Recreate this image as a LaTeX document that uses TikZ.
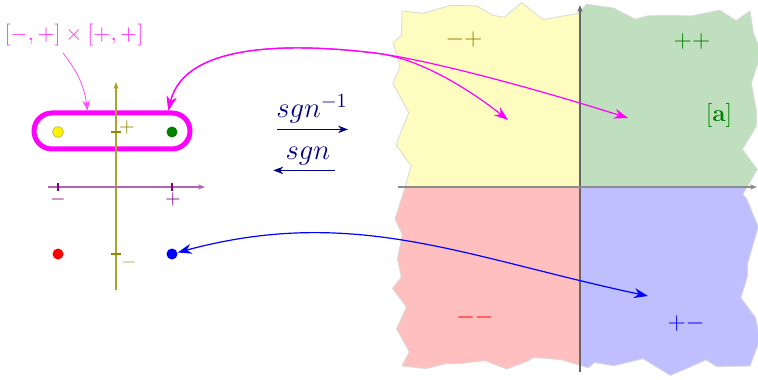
\documentclass[tikz,border=0pt]{standalone}
\usetikzlibrary{arrows.meta,decorations.pathmorphing}
\definecolor{signmag}{rgb}{1,0,1}
\tikzset{
  ball/.style={circle, inner sep=0pt, minimum size=5.5pt},
  axis/.style={semithick, -{Stealth[length=3.5pt]}},
  tickmark/.style={thick},
  link/.style={semithick, {Stealth[length=7pt,width=5pt]}-{Stealth[length=7pt,width=5pt]}},
  torn/.style={decorate, decoration={random steps, segment length=10pt, amplitude=5pt}},
  quadname/.style={font=\fontsize{11.5}{14}\selectfont},
  mapname/.style={blue!50!black, font=\Large, inner sep=0pt, anchor=base},
}
\begin{document}
\begin{tikzpicture}[x=0.5pt, y=-0.5pt]
  \useasboundingbox (0,0) rectangle (758,379);

  % the four quadrants, torn off at the outside
  \begin{scope}
    \pgfmathsetseed{5}
    \clip[torn] (402,11) rectangle (750,366);
    \fill[yellow!25] (380,0) rectangle (580,187);
    \fill[green!50!black!25] (580,0) rectangle (758,187);
    \fill[red!25] (380,187) rectangle (580,379);
    \fill[blue!25] (580,187) rectangle (758,379);
  \end{scope}
  \pgfmathsetseed{5}
  \draw[torn, gray!30, thin] (402,11) rectangle (750,366);
  \draw[axis, black!60] (580,372) -- (580,5);
  \draw[axis, black!45] (398,187) -- (757,187);

  % quadrant names
  \node[quadname, olive] (mp) at (464,40) {$-+$};
  \node[quadname, green!50!black] (pp) at (692,42) {$++$};
  \node[green!50!black, font=\large] (va) at (719,116) {$[\mathbf{a}]$};
  \node[quadname, red] (mm) at (475,317) {$--$};
  \node[quadname, blue] (pm) at (686,323) {$+-$};

  % the small sign plane
  \node[draw=signmag, line width=2.5pt, rounded corners=9pt,
        minimum width=78pt, minimum height=18pt] (ell) at (112,131) {};
  \draw[axis, olive!75] (116,290) -- (116,82);
  \draw[axis, violet!60] (48,187) -- (205,187);
  \draw[tickmark, violet] (58,183) -- (58,191);
  \draw[tickmark, violet] (172,183) -- (172,191);
  \draw[tickmark, olive] (111,132) -- (121,132);
  \draw[tickmark, olive] (111,254) -- (121,254);
  \node[violet] (xm) at (58,199) {$-$};
  \node[violet] (xp) at (173,199) {$+$};
  \node[olive] (yp) at (127,128) {$+$};
  \node[olive!70] (ym) at (129,262) {$-$};

  \node[ball, fill=yellow, draw=yellow!60!black, very thin] (yd) at (58,132) {};
  \node[ball, fill=green!50!black] (gd) at (172,132) {};
  \node[ball, fill=red] (rd) at (58,254) {};
  \node[ball, fill=blue] (bd) at (172,254) {};

  \node[signmag!80, font=\fontsize{11}{13}\selectfont] (lab) at (74,35) {$[-,+]\times[+,+]$};
  \draw[thin, signmag!70, -{Stealth[length=5pt]}] ([xshift=-5.5pt]lab.south) to[bend left=15] (ell.140);

  % sgn and its inverse
  \node[mapname] (inv) at (312,118) {$sgn^{-1}$};
  \draw[blue!50!black, semithick, -{Stealth[length=5pt]}]
    ([xshift=0.5pt,yshift=-2.7pt]inv.south west) -- ([yshift=-2.7pt]inv.south east);
  \node[mapname] (fwd) at (308,160) {$sgn$};
  \draw[blue!50!black, semithick, -{Stealth[length=5pt]}]
    ([xshift=2pt,yshift=-2.2pt]fwd.south east) -- ([xshift=-6pt,yshift=-2.2pt]fwd.south west);

  % links between the two pictures
  \coordinate (split) at (375,53);
  \coordinate (q1) at (508,120);
  \coordinate (q2) at (628,118);
  \coordinate (q3) at (648,296);
  \draw[link, signmag] (ell.20) .. controls (185,40) and (300,44) .. (split)
    .. controls (420,58) and (470,90) .. (q1);
  \draw[link, signmag] (ell.20) .. controls (185,40) and (300,44) .. (split)
    .. controls (430,60) and (540,90) .. (q2);
  \draw[link, blue] (bd) .. controls (354,205) and (464,257) .. (q3);
\end{tikzpicture}
\end{document}
